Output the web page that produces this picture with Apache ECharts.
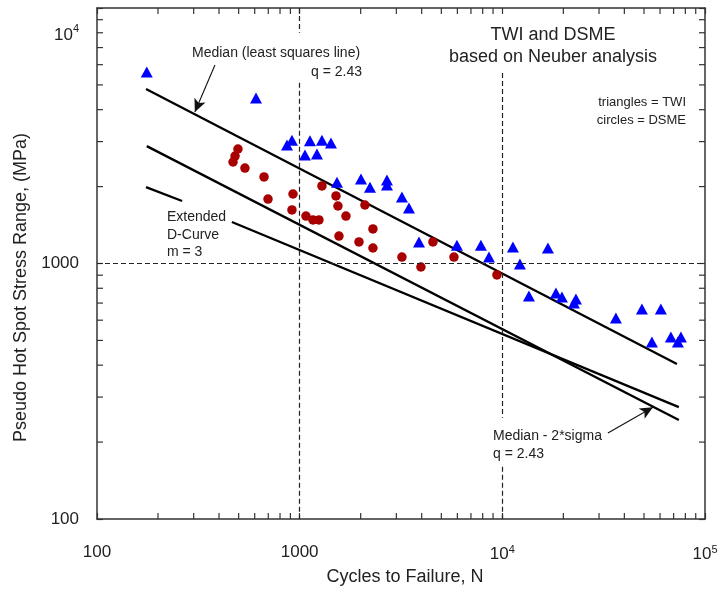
<!DOCTYPE html>
<html>
<head>
<meta charset="utf-8">
<title>Pseudo hot spot stress range vs cycles to failure</title>
<script src="https://cdn.jsdelivr.net/npm/echarts@6/dist/echarts.min.js"></script>
<style>
  html, body { margin: 0; padding: 0; background: #fff; }
  #chart { width: 723px; height: 591px; }
</style>
</head>
<body>
<div id="chart"></div>
<script>
// TWI results (triangles): cycles to failure / stress range
var twiN = [176, 609, 866, 916, 1124, 1288, 1427, 1062, 1217, 1528,
            2007, 2223, 2696, 2696, 3196, 3462, 3879, 5970, 7840, 8590,
            11280, 12210, 16790, 13530, 18390, 19680, 23080, 22560, 36340, 48840,
            60570, 54700, 67870, 73500, 76050];
var twiS = [5620, 4440, 2910, 3040, 3020, 3040, 2960, 2660, 2680, 2080,
            2140, 1990, 2120, 2030, 1820, 1650, 1214, 1180, 1180, 1060,
            1160, 995, 1150, 746, 766, 739, 726, 700, 612, 663,
            663, 493, 516, 493, 516];

// DSME results (circles)
var dsmeN = [496, 480, 469, 537, 667, 698, 927, 916, 1288, 1511,
             1545, 1692, 1074, 1163, 1245, 2099, 2299, 1563, 1962, 2299,
             3196, 3966, 4546, 5771, 9404];
var dsmeS = [2806, 2634, 2496, 2364, 2181, 1788, 1871, 1620, 2011, 1838,
             1679, 1534, 1534, 1481, 1481, 1694, 1365, 1281, 1214, 1150,
             1060, 969, 1214, 1060, 902];

// S-N lines (end points)
var medianLine = [[174.5, 4820], [72700, 404]];
var lowerLine = [[176, 2880], [74300, 244]];
var dCurveA = [[174.5, 1990], [263, 1756]];
var dCurveB = [[463, 1453], [74300, 274]];

// log axis minor tick steps
var minorSteps = [2, 3, 4, 5, 6, 7, 8, 9];
var xDecades = [100, 1000, 10000];
var yDecades = [100, 1000];

var FONT = "'Liberation Sans', Arial, sans-serif";

function zip(a, b) {
    return a.map(function (v, i) { return [v, b[i]]; });
}

var xMinor = [], yMinor = [];
xDecades.forEach(function (d) { minorSteps.forEach(function (k) { xMinor.push(k * d); }); });
yDecades.forEach(function (d) { minorSteps.forEach(function (k) { yMinor.push(k * d); }); });

function tickSeries(data, size, offset) {
    return {
        type: 'scatter', silent: true, clip: false, z: 1,
        symbol: 'rect', symbolSize: size, symbolOffset: offset,
        itemStyle: { color: '#333', opacity: 1 },
        data: data
    };
}

function expLabel(v) {
    var e = Math.round(Math.log(v) / Math.LN10);
    if (e === 2) return '100';
    if (e === 3) return '1000';
    return '{b|10}{s|' + e + '}';
}

var dashStyle = { color: '#222', width: 1.2, type: [5, 3] };
function seg(a, b) { return [{ coord: a }, { coord: b }]; }

var texts = [
    ['Median (least squares line)', 192, 53, 'left', 14],
    ['q = 2.43', 362, 72, 'right', 14],
    ['TWI and DSME', 553, 35, 'center', 18],
    ['based on Neuber analysis', 553, 57, 'center', 18],
    ['triangles = TWI', 686, 102, 'right', 13],
    ['circles = DSME', 686, 120, 'right', 13],
    ['Extended', 167, 217, 'left', 14],
    ['D-Curve', 167, 235, 'left', 14],
    ['m = 3', 167, 252, 'left', 14],
    ['Median - 2*sigma', 493, 436, 'left', 14],
    ['q = 2.43', 493, 454, 'left', 14]
];

var chart = echarts.init(document.getElementById('chart'));

var axisCommon = {
    type: 'log', logBase: 10,
    axisLine: { show: true, onZero: false, lineStyle: { color: '#333', width: 1.5 } },
    axisTick: { show: true, inside: true, length: 6, lineStyle: { color: '#333', width: 1.2 } },
    splitLine: { show: false }
};

var option = {
    animation: false,
    backgroundColor: '#fff',
    grid: { left: 97, right: 18, top: 8, bottom: 72 },
    xAxis: [
        Object.assign({}, axisCommon, {
            min: 100, max: 100000, position: 'bottom',
            name: 'Cycles to Failure, N', nameLocation: 'middle', nameGap: 49,
            nameTextStyle: { fontFamily: FONT, fontSize: 18, color: '#222', padding: [0, 0, 0, 8] },
            axisLabel: {
                margin: 25, color: '#222', fontFamily: FONT, fontSize: 17,
                formatter: expLabel,
                rich: {
                    b: { fontFamily: FONT, fontSize: 17, color: '#222' },
                    s: { fontFamily: FONT, fontSize: 11, color: '#222', padding: [0, 0, 10, 0] }
                }
            }
        }),
        Object.assign({}, axisCommon, {
            min: 100, max: 100000, position: 'top', axisLabel: { show: false }
        })
    ],
    yAxis: [
        Object.assign({}, axisCommon, {
            min: 100, max: 10000, position: 'left',
            name: 'Pseudo Hot Spot Stress Range, (MPa)', nameLocation: 'middle', nameGap: 66,
            nameTextStyle: { fontFamily: FONT, fontSize: 18, color: '#222', padding: [0, 48, 0, 0] },
            axisLabel: {
                margin: 18, color: '#222', fontFamily: FONT, fontSize: 17,
                formatter: function (v) {
                    var e = Math.round(Math.log(v) / Math.LN10);
                    if (e === 4) return '{t|10}{u|4}';
                    return expLabel(v);
                },
                rich: {
                    t: { fontFamily: FONT, fontSize: 17, color: '#222', padding: [54, 0, 0, 0] },
                    u: { fontFamily: FONT, fontSize: 11, color: '#222', padding: [42, 0, 0, 0] }
                }
            }
        }),
        Object.assign({}, axisCommon, {
            min: 100, max: 10000, position: 'right', axisLabel: { show: false }
        })
    ],
    graphic: texts.map(function (t) {
        return {
            type: 'text', x: t[1], y: t[2], silent: true,
            style: {
                text: t[0], fill: '#222', align: t[3], verticalAlign: 'middle',
                font: t[4] + 'px ' + FONT
            }
        };
    }),
    series: [
        tickSeries(xMinor.map(function (v) { return [v, 100]; }), [1.2, 6], [0, -3]),
        tickSeries(xMinor.map(function (v) { return [v, 10000]; }), [1.2, 6], [0, 3]),
        tickSeries(yMinor.map(function (v) { return [100, v]; }), [6, 1.2], [3, 0]),
        tickSeries(yMinor.map(function (v) { return [100000, v]; }), [6, 1.2], [-3, 0]),
        {
            name: 'Median', type: 'line', data: medianLine, symbol: 'none', z: 3,
            lineStyle: { color: '#000', width: 2.3 },
            markLine: {
                silent: true, symbol: 'none', label: { show: false },
                lineStyle: dashStyle, animation: false,
                data: [
                    seg([1000, 10000], [1000, 8000]),
                    seg([1000, 5100], [1000, 100]),
                    seg([10000, 5570], [10000, 249]),
                    seg([10000, 160], [10000, 100]),
                    seg([100, 1000], [100000, 1000])
                ]
            }
        },
        {
            name: 'Median - 2*sigma', type: 'line', data: lowerLine, symbol: 'none', z: 3,
            lineStyle: { color: '#000', width: 2.3 },
            markLine: {
                silent: true, symbol: ['none', 'arrow'], symbolSize: [9, 13],
                label: { show: false }, animation: false,
                lineStyle: { color: '#111', width: 1.1, type: 'solid' },
                data: [
                    seg([382, 5983], [304, 3917]),
                    seg([33190, 217], [55340, 274])
                ]
            }
        },
        {
            name: 'D-Curve', type: 'line', data: dCurveA, symbol: 'none', z: 3,
            lineStyle: { color: '#000', width: 2.3 }
        },
        {
            name: 'D-Curve', type: 'line', data: dCurveB, symbol: 'none', z: 3,
            lineStyle: { color: '#000', width: 2.3 }
        },
        {
            name: 'TWI', type: 'scatter', data: zip(twiN, twiS), z: 4,
            symbol: 'triangle', symbolSize: [12, 11],
            itemStyle: { color: '#0000ff', opacity: 1 }
        },
        {
            name: 'DSME', type: 'scatter', data: zip(dsmeN, dsmeS), z: 4,
            symbol: 'circle', symbolSize: 9.5,
            itemStyle: { color: '#a80000', opacity: 1 }
        }
    ]
};

chart.setOption(option);
</script>
</body>
</html>
